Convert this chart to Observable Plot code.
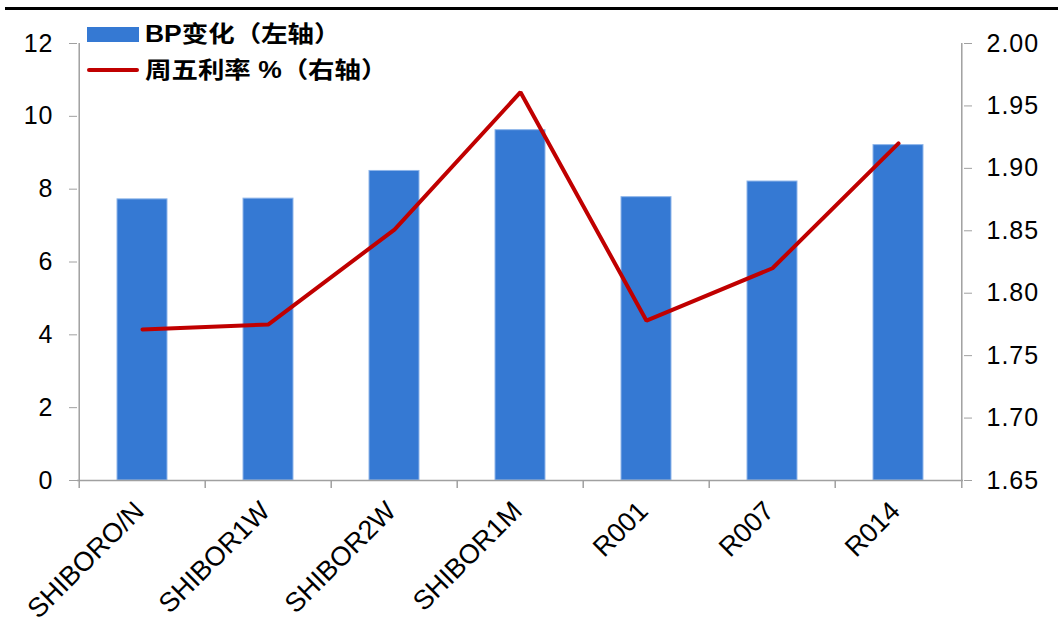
<!DOCTYPE html>
<html>
<head>
<meta charset="utf-8">
<script src="https://cdn.jsdelivr.net/npm/d3@7"></script>
<script src="https://cdn.jsdelivr.net/npm/@observablehq/plot@0.6"></script>
<style>
  html, body { margin: 0; padding: 0; background: #fff; }
  #wrap { position: relative; width: 1058px; height: 643px; overflow: hidden; }
  #topline { position: absolute; left: 5px; top: 7px; width: 1053px; height: 3px; background: #000; }
  .leg { position: absolute; left: 87px; font-family: "Liberation Sans", "Noto Sans CJK SC", sans-serif; font-weight: bold; font-size: 23px; color: #000; white-space: nowrap; }
  .sw { position: absolute; left: 0; width: 52px; }
  .leg span.t { position: absolute; left: 58px; line-height: 28px; transform: scaleX(1.15); transform-origin: left center; }
  svg g[aria-label="y-axis tick"] { stroke: #a0a0a0; }
  svg g[aria-label="y-axis tick label"] { letter-spacing: 1px; }
</style>
</head>
<body>
<div id="wrap">
  <div id="chart"></div>
  <div id="topline"></div>
  <div class="leg" style="top:20px;height:28px;">
    <div class="sw" style="top:7px;height:15px;background:#3579d3;"></div>
    <span class="t" id="leg1"></span>
  </div>
  <div class="leg" style="top:56px;height:28px;">
    <div class="sw" style="top:12px;height:4px;border-radius:2px;background:#c00000;"></div>
    <span class="t" id="leg2"></span>
  </div>
</div>
<script>
const categories = ["SHIBORO/N", "SHIBOR1W", "SHIBOR2W", "SHIBOR1M", "R001", "R007", "R014"];
const bpChange = [7.72, 7.74, 8.50, 9.62, 7.78, 8.21, 9.21];
const fridayRate = [1.771, 1.775, 1.851, 1.961, 1.778, 1.820, 1.920];
const leftTicks = [0, 2, 4, 6, 8, 10, 12];
const rightTicks = [1.65, 1.70, 1.75, 1.80, 1.85, 1.90, 1.95, 2.00];
const seriesNames = ["BP变化（左轴）", "周五利率 %（右轴）"];

document.getElementById("leg1").textContent = seriesNames[0];
document.getElementById("leg2").textContent = seriesNames[1];

const leftDomain = [0, 12];
const rightDomain = [1.65, 2.00];
const toLeft = v => (v - rightDomain[0]) / (rightDomain[1] - rightDomain[0]) * (leftDomain[1] - leftDomain[0]) + leftDomain[0];
const fromLeft = v => (v - leftDomain[0]) / (leftDomain[1] - leftDomain[0]) * (rightDomain[1] - rightDomain[0]) + rightDomain[0];

const data = categories.map((c, i) => ({cat: c, bp: bpChange[i], rate: fridayRate[i]}));

const W = 1058, H = 643, ML = 77, MR = 95, MT = 43, MB = 163;
const step = (W - ML - MR) / categories.length;
const gray = "#a0a0a0";
const last = categories[categories.length - 1];

const chart = Plot.plot({
  width: W, height: H,
  marginLeft: ML, marginRight: MR, marginTop: MT, marginBottom: MB,
  style: {fontFamily: "'Liberation Sans', Arial, sans-serif", fontSize: "25px", color: "#000", background: "#fff"},
  x: {domain: categories, paddingInner: 0.6, paddingOuter: 0.3, axis: null},
  y: {domain: leftDomain, axis: null},
  marks: [
    Plot.barY(data, {x: "cat", y: "bp", fill: "#3579d3", stroke: "#8fb6ea", strokeWidth: 1}),
    Plot.ruleY([0], {stroke: gray, strokeWidth: 1.5}),
    Plot.ruleX(categories, {x: d => d, dx: -step / 2, y1: 0, y2: 0, insetBottom: -8, stroke: gray, strokeWidth: 1.5}),
    Plot.ruleX([last], {x: d => d, dx: step / 2, y1: 0, y2: 0, insetBottom: -8, stroke: gray, strokeWidth: 1.5}),
    Plot.ruleX([categories[0]], {x: d => d, dx: -step / 2, y1: leftDomain[0], y2: leftDomain[1], stroke: gray, strokeWidth: 1.5}),
    Plot.ruleX([last], {x: d => d, dx: step / 2, y1: leftDomain[0], y2: leftDomain[1], stroke: gray, strokeWidth: 1.5}),
    Plot.axisY(leftTicks, {anchor: "left", label: null, tickSize: 8, tickPadding: 16, fontSize: 25}),
    Plot.axisY(rightTicks.map(toLeft), {anchor: "right", label: null, tickSize: 8, tickPadding: 15, fontSize: 25, tickFormat: d => fromLeft(d).toFixed(2)}),
    Plot.axisX(categories, {anchor: "bottom", label: null, tickSize: 0, tickPadding: 26, tickRotate: -45, fontSize: 27, dx: -3}),
    Plot.line(data, {x: "cat", y: d => toLeft(d.rate), stroke: "#c00000", strokeWidth: 4, strokeLinejoin: "miter"})
  ]
});
document.getElementById("chart").appendChild(chart);
</script>
</body>
</html>
